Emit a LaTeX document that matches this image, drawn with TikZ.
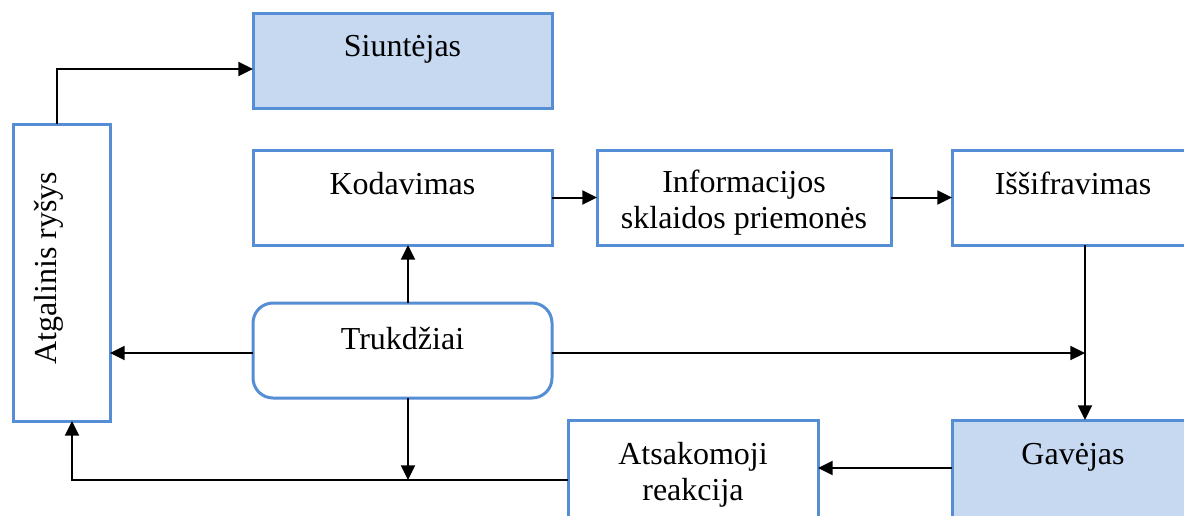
\documentclass[tikz,border=0pt]{standalone}
\usepackage{fontspec}
\setmainfont{Liberation Serif}
\usetikzlibrary{arrows.meta}
\definecolor{bord}{RGB}{85,142,213}
\definecolor{fillb}{RGB}{198,217,241}
\begin{document}
\begin{tikzpicture}[x=0.75pt,y=-0.75pt,
  box/.style={draw=bord,line width=2.25pt,fill=white,inner sep=0pt,outer sep=0pt},
  filledbox/.style={box,fill=fillb},
  txt/.style={font=\fontsize{24}{27}\selectfont,inner sep=0pt,align=center},
  conn/.style={line width=1.5pt,-{Triangle[length=11pt,width=10.5pt]}},
  plain/.style={line width=1.5pt}]
\useasboundingbox (0,0) rectangle (1184,515);
\clip (0,0) rectangle (1184,515);
% boxes
\node[filledbox,minimum width={299*0.75pt},minimum height={95*0.75pt}] (sender) at (402.5,60.5) {};
\node[box,minimum width={97*0.75pt},minimum height={297*0.75pt}] (feedback) at (61.5,272.5) {};
\node[box,minimum width={299*0.75pt},minimum height={95*0.75pt}] (coding) at (402.5,197.5) {};
\node[box,minimum width={294*0.75pt},minimum height={95*0.75pt}] (media) at (744,197.5) {};
\node[box,minimum width={242*0.75pt},minimum height={95*0.75pt}] (decoding) at (1073,197.5) {};
\node[box,rounded corners=15pt,minimum width={299*0.75pt},minimum height={95*0.75pt}] (noise) at (402.5,350.5) {};
\node[filledbox,minimum width={242*0.75pt},minimum height={110*0.75pt}] (receiver) at (1073,475) {};
\node[box,minimum width={250*0.75pt},minimum height={110*0.75pt}] (response) at (693,475) {};
% texts
\node[txt,anchor=base] (tsender) at (402.5,56) {Siuntėjas};
\node[txt,anchor=base,rotate=90] (tfeedback) at (56,268) {Atgalinis ryšys};
\node[txt,anchor=base] (tcoding) at (402.5,194) {Kodavimas};
\node[txt] (tmedia) at (744,203) {Informacijos\\sklaidos priemonės};
\node[txt,anchor=base] (tdecoding) at (1073,194) {Iššifravimas};
\node[txt,anchor=base] (tnoise) at (402.5,349) {Trukdžiai};
\node[txt,anchor=base] (treceiver) at (1073,464) {Gavėjas};
\node[txt] (tresponse) at (693,475) {Atsakomoji\\reakcija};
% helper coordinates
\coordinate (vx) at (1085,0);
\coordinate (bl) at (0,480);
\coordinate (fbtop) at (57,0);
\coordinate (fbbot) at (72,0);
\coordinate (nx) at (408,0);
% connectors
\draw[conn] (feedback.north -| fbtop) |- ([yshift=-6.4pt]sender.west);
\draw[conn] (coding.east) -- (media.west);
\draw[conn] (media.east) -- (decoding.west);
\draw[conn] (decoding.south -| vx) -- (receiver.north -| vx);
\draw[conn] (noise.north -| nx) -- (coding.south -| nx);
\draw[conn] ([yshift=-1.9pt]noise.west) -- ([yshift=-1.9pt]noise.west -| feedback.east);
\draw[conn] ([yshift=-1.9pt]noise.east) -- ([yshift=-1.9pt]noise.east -| vx);
\draw[conn] (noise.south -| nx) -- (nx |- bl);
\draw[conn] (response.west |- bl) -| (feedback.south -| fbbot);
\draw[conn] ([yshift=5.25pt]receiver.west) -- ([yshift=5.25pt]receiver.west -| response.east);
\end{tikzpicture}
\end{document}
